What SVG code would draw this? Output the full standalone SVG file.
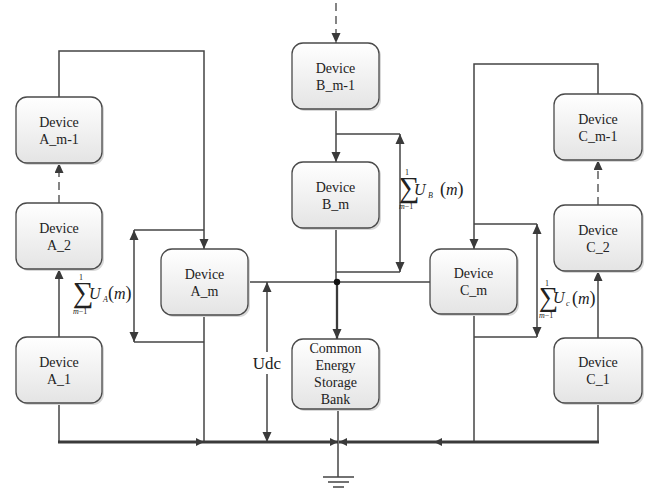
<svg xmlns="http://www.w3.org/2000/svg" width="657" height="488" viewBox="0 0 657 488">
<style>
.box{fill:url(#g);stroke:#4a4a4a;stroke-width:1.3}
.sh{fill:#d8d8d8;stroke:none}
.t{font-family:"Liberation Serif","Times New Roman",serif;font-size:14px;fill:#222;text-anchor:middle}
.ln{fill:none;stroke:#444;stroke-width:1.5}
.bus{fill:none;stroke:#3a3a3a;stroke-width:3}
.dash{fill:none;stroke:#444;stroke-width:1.3;stroke-dasharray:8,5}
.m{font-family:"Liberation Serif","Times New Roman",serif;fill:#222}
.i{font-style:italic}
</style>
<defs>
<linearGradient id="g" x1="0" y1="0" x2="0" y2="1">
<stop offset="0" stop-color="#ffffff"/>
<stop offset="1" stop-color="#e4e4e4"/>
</linearGradient>
<marker id="ae" markerUnits="userSpaceOnUse" markerWidth="12" markerHeight="10" refX="10" refY="4.5" orient="auto">
<path d="M0,0 L10,4.5 L0,9 z" fill="#3a3a3a"/>
</marker>
<marker id="as" markerUnits="userSpaceOnUse" markerWidth="12" markerHeight="10" refX="0" refY="4.5" orient="auto">
<path d="M10,0 L0,4.5 L10,9 z" fill="#3a3a3a"/>
</marker>
<marker id="ab" markerUnits="userSpaceOnUse" markerWidth="10" markerHeight="10" refX="8" refY="4" orient="auto">
<path d="M0,0 L8,4 L0,8 z" fill="#3a3a3a"/>
</marker>
</defs>
<rect width="657" height="488" fill="#fff"/>

<g id="connectors">
<path class="ln" d="M59,97 V51 H204 V249" marker-end="url(#ae)"/>
<path class="dash" d="M59,203 V163" marker-end="url(#ae)"/>
<path class="ln" d="M59,337 V269" marker-end="url(#ae)"/>
<path class="ln" d="M59,403 V442"/>
<path class="ln" d="M134,230 H204"/>
<path class="ln" d="M134,342 H204"/>
<path class="ln" d="M134,230 V342" marker-start="url(#as)" marker-end="url(#ae)"/>
<path class="ln" d="M204,315 V442"/>
<path class="dash" d="M336,3 V43" marker-end="url(#ae)"/>
<path class="ln" d="M336,109 V162" marker-end="url(#ae)"/>
<path class="ln" d="M336,134 H400"/>
<path class="ln" d="M336,228 V282"/>
<path class="ln" d="M336,272 H400"/>
<path class="ln" d="M400,134 V272" marker-start="url(#as)" marker-end="url(#ae)"/>
<path class="ln" d="M248,282 H430"/>
<path fill="none" stroke="#3a3a3a" stroke-width="2.3" d="M337,282 V339" marker-end="url(#ae)"/>
<circle cx="337" cy="282" r="3.2" fill="#111"/>
<path class="ln" d="M267,282 V352" marker-start="url(#as)"/>
<path class="ln" d="M267,374 V442" marker-end="url(#ae)"/>
<path class="ln" d="M338,409 V477"/>
<path stroke="#444" stroke-width="1.5" d="M323,477 H354 M328,482 H349 M333,487 H344"/>
<path class="ln" d="M598,94 V64 H474 V249" marker-end="url(#ae)"/>
<path class="dash" d="M598,205 V160" marker-end="url(#ae)"/>
<path class="ln" d="M598,338 V271" marker-end="url(#ae)"/>
<path class="ln" d="M598,403 V442"/>
<path class="ln" d="M474,224 H537"/>
<path class="ln" d="M474,337 H537"/>
<path class="ln" d="M537,224 V337" marker-start="url(#as)" marker-end="url(#ae)"/>
<path class="ln" d="M474,314 V442"/>
<path class="bus" d="M58,442 H204" marker-end="url(#ab)"/>
<path class="bus" d="M204,442 H338" marker-end="url(#ab)"/>
<path class="bus" d="M599,442 H434" marker-end="url(#ab)"/>
<path class="bus" d="M434,442 H339" marker-end="url(#ab)"/>
</g>

<g id="labels">
<text class="m" x="267" y="369" font-size="17" text-anchor="middle">Udc</text>
<g id="sumA">
<text class="m" x="73" y="302" font-size="29">∑</text>
<text class="m" x="79" y="280" font-size="8">1</text>
<text class="m" x="73" y="314" font-size="8"><tspan class="i">m</tspan>−1</text>
<text class="m i" x="89" y="299" font-size="16">U</text>
<text class="m i" x="103" y="302" font-size="8">A</text>
<text class="m" x="108" y="299" font-size="18">(<tspan class="i" font-size="16">m</tspan>)</text>
</g>
<g id="sumB">
<text class="m" x="399" y="197" font-size="29">∑</text>
<text class="m" x="405" y="175" font-size="8">1</text>
<text class="m" x="399" y="209" font-size="8"><tspan class="i">m</tspan>−1</text>
<text class="m i" x="414" y="195" font-size="16">U</text>
<text class="m i" x="428" y="198" font-size="8">B</text>
<text class="m" x="440" y="195" font-size="18">(<tspan class="i" font-size="16">m</tspan>)</text>
</g>
<g id="sumC">
<text class="m" x="539" y="306" font-size="27">∑</text>
<text class="m" x="545" y="286" font-size="8">1</text>
<text class="m" x="539" y="318" font-size="8"><tspan class="i">m</tspan>−1</text>
<text class="m i" x="553" y="303" font-size="16">U</text>
<text class="m i" x="566" y="306" font-size="8">c</text>
<text class="m" x="572" y="304" font-size="18">(<tspan class="i" font-size="16">m</tspan>)</text>
</g>
</g>

<g id="A_m-1"><rect class="sh" x="18" y="99" width="86" height="66" rx="11"/><rect class="box" x="16" y="97" width="86" height="66" rx="11"/><text class="t" x="59" y="127">Device</text><text class="t" x="59" y="144">A_m-1</text></g>
<g id="A_2"><rect class="sh" x="18" y="205" width="86" height="66" rx="11"/><rect class="box" x="16" y="203" width="86" height="66" rx="11"/><text class="t" x="59" y="233">Device</text><text class="t" x="59" y="250">A_2</text></g>
<g id="A_1"><rect class="sh" x="18" y="339" width="86" height="66" rx="11"/><rect class="box" x="16" y="337" width="86" height="66" rx="11"/><text class="t" x="59" y="367">Device</text><text class="t" x="59" y="384">A_1</text></g>
<g id="A_m"><rect class="sh" x="163" y="251" width="87" height="66" rx="11"/><rect class="box" x="161" y="249" width="87" height="66" rx="11"/><text class="t" x="204.5" y="279">Device</text><text class="t" x="204.5" y="296">A_m</text></g>
<g id="B_m-1"><rect class="sh" x="294" y="45" width="87" height="66" rx="11"/><rect class="box" x="292" y="43" width="87" height="66" rx="11"/><text class="t" x="335.5" y="73">Device</text><text class="t" x="335.5" y="90">B_m-1</text></g>
<g id="B_m"><rect class="sh" x="294" y="164" width="87" height="66" rx="11"/><rect class="box" x="292" y="162" width="87" height="66" rx="11"/><text class="t" x="335.5" y="192">Device</text><text class="t" x="335.5" y="209">B_m</text></g>
<g id="CESB"><rect class="sh" x="294" y="341" width="87" height="70" rx="11"/><rect class="box" x="292" y="339" width="87" height="70" rx="11"/><text class="t" x="335.5" y="353">Common</text><text class="t" x="335.5" y="370">Energy</text><text class="t" x="335.5" y="387">Storage</text><text class="t" x="335.5" y="404">Bank</text></g>
<g id="C_m"><rect class="sh" x="432" y="251" width="87" height="65" rx="11"/><rect class="box" x="430" y="249" width="87" height="65" rx="11"/><text class="t" x="473.5" y="278">Device</text><text class="t" x="473.5" y="295">C_m</text></g>
<g id="C_m-1"><rect class="sh" x="556" y="96" width="88" height="66" rx="11"/><rect class="box" x="554" y="94" width="88" height="66" rx="11"/><text class="t" x="598" y="124">Device</text><text class="t" x="598" y="141">C_m-1</text></g>
<g id="C_2"><rect class="sh" x="556" y="207" width="88" height="66" rx="11"/><rect class="box" x="554" y="205" width="88" height="66" rx="11"/><text class="t" x="598" y="235">Device</text><text class="t" x="598" y="252">C_2</text></g>
<g id="C_1"><rect class="sh" x="556" y="340" width="88" height="65" rx="11"/><rect class="box" x="554" y="338" width="88" height="65" rx="11"/><text class="t" x="598" y="367">Device</text><text class="t" x="598" y="384">C_1</text></g>
</svg>
